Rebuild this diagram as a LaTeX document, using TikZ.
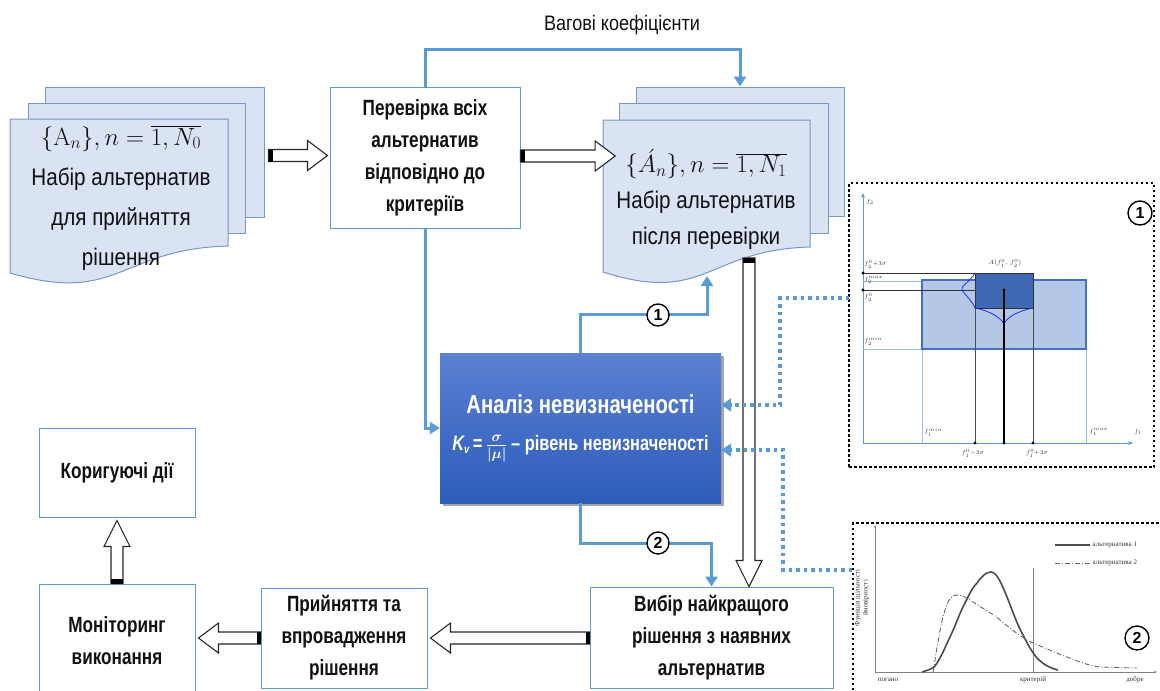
\documentclass[tikz,border=0pt]{standalone}
\usepackage[no-math]{fontspec}
\setmainfont{Liberation Sans}
\newfontfamily\nb[FakeStretch=0.78]{Liberation Sans}
\newfontfamily\nr[FakeStretch=0.86]{Liberation Sans}
\newfontfamily\cser{Liberation Serif}
\usetikzlibrary{arrows.meta,shadows,calc}
\definecolor{lblue}{RGB}{91,155,213}
\definecolor{pagefill}{RGB}{218,227,243}
\definecolor{pageline}{RGB}{120,150,200}
\definecolor{anatop}{RGB}{92,128,210}
\definecolor{anabot}{RGB}{44,92,186}
\definecolor{rlight}{RGB}{180,199,231}
\definecolor{rborder}{RGB}{70,114,196}
\definecolor{rdark}{RGB}{62,105,178}
\definecolor{txt}{RGB}{17,17,17}
\newcommand\fatH[2]{%
 \draw[fatline] let \p1=(#1),\p2=(#2),\n1={ifthenelse(\x2>\x1,1,-1)} in
 (\x1,\y2+6pt) -- ({\x2-(\n1)*20pt},\y2+6pt) -- ({\x2-(\n1)*20pt},\y2+15pt) -- (\x2,\y2) -- ({\x2-(\n1)*20pt},\y2-15pt) -- ({\x2-(\n1)*20pt},\y2-6pt) -- (\x1,\y2-6pt) -- cycle;
 \fill[black] let \p1=(#1),\p2=(#2),\n1={ifthenelse(\x2>\x1,1,-1)} in
 (\x1,\y2+6pt) rectangle ({\x1+(\n1)*4pt},\y2-6pt);}
\newcommand\fatV[2]{%
 \draw[fatline] let \p1=(#1),\p2=(#2),\n1={ifthenelse(\y2>\y1,1,-1)} in
 (\x1-6pt,\y1) -- (\x1-6pt,{\y2-(\n1)*26pt}) -- (\x1-13pt,{\y2-(\n1)*26pt}) -- (\x1,\y2) -- (\x1+13pt,{\y2-(\n1)*26pt}) -- (\x1+6pt,{\y2-(\n1)*26pt}) -- (\x1+6pt,\y1) -- cycle;
 \fill[black] let \p1=(#1),\p2=(#2),\n1={ifthenelse(\y2>\y1,1,-1)} in
 (\x1-6pt,\y1) rectangle (\x1+6pt,{\y1+(\n1)*5pt});}
\begin{document}
\begin{tikzpicture}[x=1pt,y=-1pt,
 page/.style={draw=pageline, fill=pagefill, line width=1pt},
 pbox/.style={draw=lblue, line width=1pt, fill=white, align=center, text=txt, font=\nb\bfseries\fontsize{22}{32}\selectfont, inner sep=0pt},
 doctext/.style={align=center, text=txt, inner sep=0pt},
 bline/.style={draw=lblue, line width=3pt, -{Triangle[length=10pt,width=12pt]}},
 dline/.style={draw=lblue, line width=3.5pt, dash pattern=on 3.5pt off 4pt, -{Triangle[length=10pt,width=13pt]}},
 panel/.style={draw=black, line width=2.5pt, dash pattern=on 2.5pt off 2.5pt},
 fatline/.style={draw=black!85, line width=1.1pt, fill=white},
 ncirc/.style={circle, draw=black, line width=1.4pt, fill=white, inner sep=0pt, minimum size=22pt, font=\bfseries\fontsize{16}{16}\selectfont},
 tiny/.style={font=\fontsize{6}{6.5}\selectfont, inner sep=0.2pt, text=black!80},
 stiny/.style={font=\cser\fontsize{7}{8}\selectfont, inner sep=0.5pt, text=black!80}]
\useasboundingbox (0,0) rectangle (1160,691);

% ---- left multidocument
\node[page, minimum width=219pt, minimum height=130pt] (d1c) at (154.5,152) {};
\node[page, minimum width=217pt, minimum height=130pt] (d1b) at (136.5,168) {};
\draw[page] (10,119) -- (228,119) -- (228,246) .. controls (119,249) and (119,305) .. (10,273) -- cycle;
\node[doctext, font=\nr\fontsize{24}{40}\selectfont] (d1) at (121,198)
 {$\{\mathrm{A}_n\},n=\overline{1,N_0}$\\Набір альтернатив\\для прийняття\\рішення};

% ---- right multidocument
\node[page, minimum width=208pt, minimum height=129pt] (d2c) at (740,151.5) {};
\node[page, minimum width=209pt, minimum height=130pt] (d2b) at (723.5,168) {};
\draw[page] (603,120) -- (810,120) -- (810,247) .. controls (706,250) and (706,305) .. (603,272) -- cycle;
\node[doctext, font=\nr\fontsize{24}{36}\selectfont] (d2) at (706,199)
 {$\{\acute{A}_n\},n=\overline{1,N_1}$\\Набір альтернатив\\після перевірки};
\coordinate (d2tip) at (707,276);
\coordinate (d2bot) at (749,258);

% ---- process boxes
\node[pbox, minimum width=190pt, minimum height=141pt] (check) at (425,157.5)
 {Перевірка всіх\\альтернатив\\відповідно до\\критеріїв};
\node[pbox, minimum width=156pt, minimum height=89pt] (corr) at (117,472.5) {Коригуючі дії};
\node[pbox, minimum width=156pt, minimum height=114pt] (mon) at (117,641) {Моніторинг\\виконання};
\node[pbox, minimum width=166pt, minimum height=100pt] (acc) at (344,638) {Прийняття та\\впровадження\\рішення};
\node[pbox, minimum width=243pt, minimum height=101pt] (sel) at (711.5,637.5) {Вибір найкращого\\рішення з наявних\\альтернатив};

\node[minimum width=281pt, minimum height=150pt, top color=anatop, bottom color=anabot,
 drop shadow={shadow xshift=3pt, shadow yshift=-3pt, opacity=0.35, fill=black},
 text=white, align=center, inner sep=0pt, font=\nb\bfseries\fontsize{26}{37}\selectfont] (ana) at (580.5,428)
 {Аналіз невизначеності\\{\fontsize{21}{21}\selectfont{\itshape K}\raisebox{-3pt}{\fontsize{12}{12}\selectfont\itshape v}\,=\,{\boldmath$\frac{\sigma}{|\mu|}$}\,– рівень невизначеності}};

% ---- label
\node[font=\nr\fontsize{21}{22}\selectfont, text=txt] (wlab) at (622,25) {Вагові коефіцієнти};

% ---- blue connectors
\draw[bline] (check.north) -- ++(0,-37) -| (d2c.north);
\draw[bline] (check.south) |- (ana.west);
\draw[bline] (ana.north) -- ++(0,-38) -| (d2tip);
\draw[bline] (ana.south) -- ++(0,40) -| (sel.north);
\node[ncirc] (c1) at (658,315) {1};
\node[ncirc] (c2) at (658,543) {2};

% ---- fat arrows
\fatH{$(d1c.east)+(4,0)$}{$(check.west)+(-2,-2)$}
\fatH{check.east}{$(d2.west)+(-1,-43)$}
\fatH{sel.west}{$(acc.east)+(3,0)$}
\fatH{acc.west}{$(mon.east |- acc.east)+(3,0)$}
\fatV{mon.north}{$(corr.south)+(0,3)$}
\fatV{d2bot}{d2bot |- sel.north}

% ---- panel 1
\node[panel, minimum width=305pt, minimum height=284pt] (pan1) at (1001.5,325) {};
\coordinate (p1c) at (849,298);
\draw[dline] (p1c) -| ($(ana.east)+(59,-23)$) -- ($(ana.east)+(0,-23)$);
\draw[lblue, line width=1pt, -{Stealth[length=5pt,width=4pt]}] (863,443) -- (863,193);
\draw[lblue, line width=1pt, -{Stealth[length=5pt,width=4pt]}] (863,443) -- (1133,443);
\draw[lblue!60, line width=0.6pt] (922,349) -- (922,443) (1086,349) -- (1086,443);
\draw[lblue!60, line width=0.6pt] (863,281) -- (922,281) (863,349) -- (922,349);
\draw[rborder, line width=1.5pt, fill=rlight] (922,280) rectangle (1086,349);
\draw[black!70, line width=0.6pt] (975,308) -- (975,443) (1033,308) -- (1033,443);
\draw[black!80, line width=0.6pt] (863,273) -- (975,273) (863,290) -- (1004,290);
\draw[black!80, line width=1pt, fill=rdark] (975,273) rectangle (1033,308);
\draw[blue!70!lblue, line width=0.8pt] (975,273) .. controls (970,282) and (960,286) .. (962,290) .. controls (966,296) and (973,302) .. (975,308) .. controls (990,311) and (1000,317) .. (1004,324) .. controls (1007,317) and (1018,311) .. (1033,308);
\draw[black, line width=2pt] (1004,290) -- (1004,443);
\foreach \px/\py in {1004/290,975/443,1004/443,1033/443,863/273,863/290}
 \fill[black] (\px,\py) circle (1.6pt);
\node[tiny] (lf2) at (870,202) {$f_2$};
\node[tiny] (lf1) at (1138,432) {$f_1$};
\node[tiny, anchor=west] (l20p) at (864,264) {$f_2^0{+}3\sigma$};
\node[tiny, anchor=west] (l2max) at (864,280) {$f_2^{max}$};
\node[tiny, anchor=west] (l20) at (864,297) {$f_2^0$};
\node[tiny, anchor=west] (l2min) at (864,341) {$f_2^{min}$};
\node[tiny, anchor=west] (l1min) at (924,432) {$f_1^{min}$};
\node[tiny, anchor=west] (l1max) at (1089,432) {$f_1^{max}$};
\node[tiny] (l10m) at (973,453) {$f_1^0{-}3\sigma$};
\node[tiny] (l10p) at (1037,453) {$f_1^0{+}3\sigma$};
\node[tiny] (lA) at (1005,263) {$A(f_1^0,\,f_2^0)$};
\node[ncirc, minimum size=24pt] (c1p) at (1140,213) {1};

% ---- panel 2
\draw[panel] (853,700) -- (853,523) -- (1165,523);
\coordinate (p2c) at (852,570);
\draw[dline] (p2c) -| ($(ana.east)+(62,22)$) -- ($(ana.east)+(0,22)$);
\draw[black!50, line width=0.5pt, -{Stealth[length=3pt,width=2.5pt]}] (875,672) -- (875,525);
\draw[black!50, line width=0.5pt, -{Stealth[length=3pt,width=2.5pt]}] (875,672) -- (1157,672);
\draw[black!50, line width=0.5pt] (1033,568) -- (1033,672);
\draw[black!70, line width=1.6pt] (922,672) .. controls (928,670) and (932,669) .. (935,666)
 .. controls (942,656) and (946,645) .. (950,637) .. controls (957,622) and (960,612) .. (965,603)
 .. controls (970,593) and (972,588) .. (977,583) .. controls (982,576) and (986,572) .. (991,572)
 .. controls (997,572) and (1002,585) .. (1007,597) .. controls (1013,612) and (1017,624) .. (1022,633)
 .. controls (1028,645) and (1032,652) .. (1037,658) .. controls (1044,665) and (1050,668) .. (1058,670);
\draw[black!60, line width=0.9pt, dash pattern=on 5pt off 2pt on 1pt off 2pt] (933,672) .. controls (936,655) and (940,625) .. (945,610)
 .. controls (949,598) and (952,595) .. (957,595) .. controls (962,595) and (966,598) .. (970,600)
 .. controls (985,610) and (995,615) .. (1000,620) .. controls (1012,630) and (1022,638) .. (1033,643)
 .. controls (1045,648) and (1056,653) .. (1067,657) .. controls (1080,662) and (1090,666) .. (1100,667)
 -- (1137,668);
\draw[black!70, line width=1.6pt] (1055,545) -- (1090,545);
\draw[black!60, line width=0.9pt, dash pattern=on 5pt off 2pt on 1pt off 2pt] (1055,563) -- (1090,563);
\node[stiny, anchor=west] (lg1) at (1092,545) {альтернатива 1};
\node[stiny, anchor=west] (lg2) at (1092,563) {альтернатива 2};
\node[stiny, rotate=90, align=center] (ylab) at (862,598) {Функція щільності\\ймовірності};
\node[stiny] (lbad) at (888,680) {погано};
\node[stiny] (lcrit) at (1033,680) {критерій};
\node[stiny] (lgood) at (1135,680) {добре};
\node[ncirc, minimum size=24pt] (c2p) at (1137,638) {2};
\end{tikzpicture}
\end{document}
